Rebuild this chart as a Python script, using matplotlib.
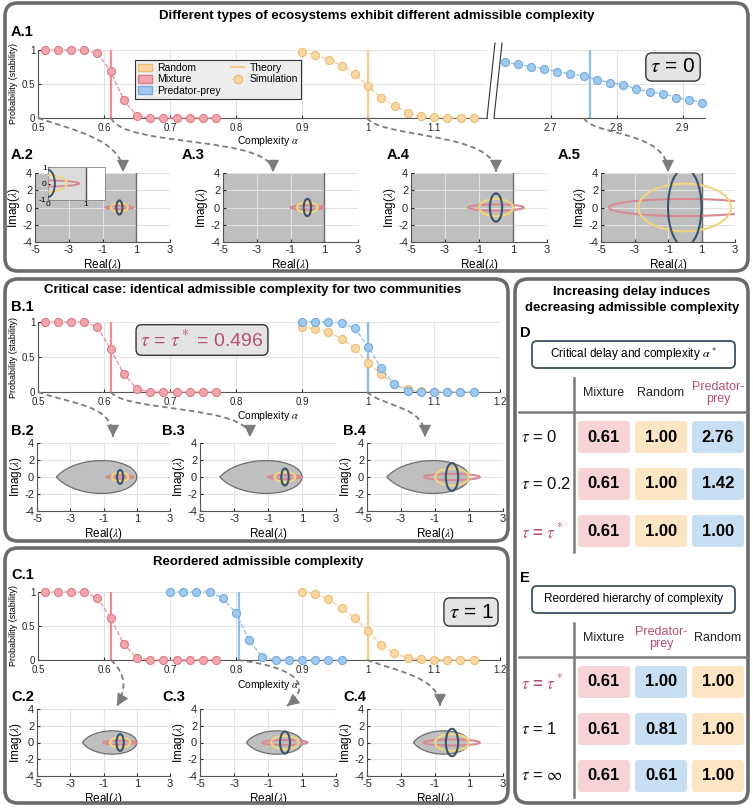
import numpy as np
import matplotlib.pyplot as plt
from matplotlib.patches import Ellipse, Polygon, Patch, FancyBboxPatch, FancyArrowPatch, PathPatch
from matplotlib.path import Path
from matplotlib.lines import Line2D

plt.rcParams['font.family'] = ['Liberation Sans', 'DejaVu Sans']
plt.rcParams['mathtext.fontset'] = 'stix'
plt.rcParams['axes.unicode_minus'] = False

# ---------------------------------------------------
# DATA
# ---------------------------------------------------
MIX_X = [0.51, 0.53, 0.55, 0.57, 0.59, 0.61, 0.63, 0.65, 0.67, 0.69, 0.71, 0.73, 0.75, 0.77]
RAND_X = [0.90, 0.92, 0.94, 0.96, 0.98, 1.00, 1.02, 1.04, 1.06, 1.08, 1.10, 1.12, 1.14, 1.16]
PP_X_A = [2.63, 2.65, 2.67, 2.69, 2.71, 2.73, 2.75, 2.77, 2.79, 2.81, 2.83, 2.85, 2.87, 2.89, 2.91, 2.93]
PP_X_B = [0.90, 0.92, 0.94, 0.96, 0.98, 1.00, 1.02, 1.04, 1.06, 1.08, 1.10, 1.12, 1.14, 1.16]
PP_X_C = [0.70, 0.72, 0.74, 0.76, 0.78, 0.80, 0.82, 0.84, 0.86, 0.88, 0.90, 0.92, 0.94, 0.96]

MIX_A = [1, 1, 1, 1, 0.95, 0.69, 0.26, 0.03, 0, 0, 0, 0, 0, 0]
RAND_A = [0.97, 0.93, 0.86, 0.77, 0.65, 0.47, 0.29, 0.18, 0.08, 0.03, 0.01, 0, 0, 0]
PP_A = [0.82, 0.79, 0.755, 0.725, 0.68, 0.65, 0.62, 0.565, 0.52, 0.49, 0.43, 0.38, 0.36, 0.30, 0.265, 0.225]

MIX_B = [1, 1, 1, 1, 0.93, 0.61, 0.26, 0.04, 0, 0, 0, 0, 0, 0]
RAND_B = [0.93, 0.90, 0.86, 0.76, 0.63, 0.41, 0.26, 0.11, 0.04, 0.01, 0, 0, 0, 0]
PP_B = [1, 1, 1, 0.99, 0.91, 0.65, 0.34, 0.11, 0.02, 0, 0, 0, 0, 0]

MIX_C = [1, 1, 1, 1, 0.91, 0.62, 0.23, 0.03, 0, 0, 0, 0, 0, 0]
PP_C = [1, 1, 1, 1, 0.91, 0.69, 0.29, 0.04, 0, 0, 0, 0, 0, 0]
RAND_C = [1.0, 0.97, 0.90, 0.76, 0.62, 0.43, 0.22, 0.10, 0.03, 0.01, 0, 0, 0, 0]

# theory (critical complexity) per panel
THEORY_A = {'mix': 0.61, 'rand': 1.0, 'pp': 2.76}
THEORY_B = {'mix': 0.61, 'rand': 1.0, 'pp': 1.0}
THEORY_C = {'mix': 0.61, 'rand': 1.0, 'pp': 0.805}

# spectrum ellipse semi-axes (horizontal, vertical) per unit complexity
ELL_AXES = {'mix': (1.64, 0.36), 'rand': (1.0, 1.0), 'pp': (0.362, 1.638)}
ALPHA_A = [0.5, 0.61, 1.0, 2.76]
ALPHA_B = [0.5, 0.61, 1.0]
ALPHA_C = [0.61, 0.805, 1.0]
TAU_B = 0.496
TAU_C = 1.0

D_COLS = ['Mixture', 'Random', 'Predator-\nprey']
D_ROWS = [r'$\tau$ = 0', r'$\tau$ = 0.2', r'$\tau$ = $\tau^*$']
D_VALS = [[0.61, 1.00, 2.76], [0.61, 1.00, 1.42], [0.61, 1.00, 1.00]]
E_COLS = ['Mixture', 'Predator-\nprey', 'Random']
E_ROWS = [r'$\tau$ = $\tau^*$', r'$\tau$ = 1', r'$\tau$ = $\infty$']
E_VALS = [[0.61, 1.00, 1.00], [0.61, 0.81, 1.00], [0.61, 0.61, 1.00]]

# ---------------------------------------------------
# STYLE
# ---------------------------------------------------
COL = {
    'mix': dict(f='#F4A6AC', e='#DB7D86', l='#EC8E96', ell='#D78A93', cell='#F7D3D8'),
    'rand': dict(f='#F9D8A4', e='#EBBD76', l='#F6CC8A', ell='#F1D47F', cell='#FCE5C3'),
    'pp': dict(f='#9FC9EE', e='#76ABDC', l='#8DBFE9', ell='#3C5469', cell='#C8DEF3'),
}
MAUVE = '#B4506C'
GRAY_FILL = '#BFBFBF'
GRID = '#E2E2E2'
SPINE = '#555555'
ARROW = '#7C7C7C'

W, H = 753, 808
fig = plt.figure(figsize=(W / 100, H / 100), dpi=100)
TR = fig.dpi_scale_trans


def P(x, y):
    return x / 100, (H - y) / 100


def add_ax(x0, x1, y0, y1):
    return fig.add_axes([x0 / W, 1 - y1 / H, (x1 - x0) / W, (y1 - y0) / H])


def text(x, y, s, **kw):
    fig.text(*P(x, y), s, transform=TR, **kw)


def style_ax(ax, size):
    for s in ['top', 'right']:
        ax.spines[s].set_visible(False)
    for s in ['left', 'bottom']:
        ax.spines[s].set_color(SPINE)
        ax.spines[s].set_linewidth(0.8)
    ax.grid(True, color=GRID, lw=0.8)
    ax.set_axisbelow(True)
    ax.tick_params(direction='in', length=2.5, labelsize=size, colors='#262626', pad=2)
    ax.tick_params(axis='x', pad=3.5)


def prob_ax(ax, xlim, xticks):
    ax.set_xlim(xlim)
    ax.set_ylim(0, 1)
    ax.set_xticks(xticks)
    ax.set_xticklabels(['%g' % v for v in xticks])
    ax.set_yticks([0, 0.5, 1])
    ax.set_yticklabels(['0', '0.5', '1'])
    style_ax(ax, 7)


def sim(ax, x, y, key):
    c = COL[key]
    ax.plot(x, y, '--', color=c['l'], lw=0.9, marker='o', ms=5.8, mfc=c['f'],
            mec=c['e'], mew=0.8, clip_on=False, zorder=3)


def theory(ax, v, key):
    ax.axvline(v, color=COL[key]['l'], lw=1.6, zorder=2)


def delay_region(tau):
    w = np.linspace(0, 10, 5000)
    wmax = w[np.argmax(np.arctan(w) + w * tau >= np.pi)]
    ww = np.linspace(-wmax, wmax, 600)
    lam = (1 + 1j * ww) * np.exp(1j * ww * tau)
    return np.column_stack([lam.real, lam.imag])


def ellipses(ax, alpha, lw=1.5):
    for key in ['mix', 'rand', 'pp']:
        rx, ry = ELL_AXES[key]
        ax.add_patch(Ellipse((0, 0), 2 * alpha * rx, 2 * alpha * ry, fill=False,
                             ec=COL[key]['ell'], lw=lw, zorder=4))


def spectrum_ax(ax, alpha, tau):
    ax.set_xlim(-5, 3)
    ax.set_ylim(-4, 4)
    ax.set_xticks([-5, -3, -1, 1, 3])
    ax.set_yticks([-4, -2, 0, 2, 4])
    style_ax(ax, 8)
    ax.tick_params(axis='x', pad=2.5)
    if tau == 0:
        ax.axvspan(-5, 1, color=GRAY_FILL, zorder=0.4, lw=0)
        ax.axvline(1, color='#6E6E6E', lw=1, zorder=0.6)
    else:
        ax.add_patch(Polygon(delay_region(tau), closed=True, fc=GRAY_FILL, ec='#6E6E6E',
                             lw=0.9, zorder=1))
    ellipses(ax, alpha)
    ax.set_xlabel(r'Real($\lambda$)', fontsize=8.5, labelpad=1)
    ax.set_ylabel(r'Imag($\lambda$)', fontsize=8.5, labelpad=0)


def curved_arrow(pts):
    path = Path([P(*p) for p in pts], [Path.MOVETO, Path.CURVE4, Path.CURVE4, Path.CURVE4])
    fig.add_artist(PathPatch(path, transform=TR, fill=False, ec=ARROW, lw=1.3,
                             linestyle=(0, (3, 2))))
    (x2, y2), (x3, y3) = pts[2], pts[3]
    d = np.hypot(x3 - x2, y3 - y2)
    base = (x3 - 9 * (x3 - x2) / d, y3 - 9 * (y3 - y2) / d)
    fig.add_artist(FancyArrowPatch(P(*base), P(x3, y3), transform=TR,
                                   arrowstyle='-|>,head_length=0.75,head_width=0.38',
                                   mutation_scale=10, shrinkA=0, shrinkB=0,
                                   color=ARROW, lw=0.8))


def panel_box(x0, y0, x1, y1):
    fig.add_artist(FancyBboxPatch(P(x0, y1), (x1 - x0) / 100, (y1 - y0) / 100,
                                  boxstyle='round,pad=0,rounding_size=0.13', transform=TR,
                                  fc='none', ec='#6B6B6B', lw=2.6))


def tau_box(x, y, s, color='black', size=15):
    text(x, y, s, fontsize=size, color=color, ha='center', va='center',
         bbox=dict(boxstyle='round,pad=0.22,rounding_size=0.3', fc='#E4E4E4', ec='#333333', lw=1))


def label(x, y, s):
    text(x, y, s, fontsize=10.5, fontweight='bold', ha='left', va='center')


# ---------------------------------------------------
# PANEL A
# ---------------------------------------------------
panel_box(5, 3, 748, 271)
text(377, 16, 'Different types of ecosystems exhibit different admissible complexity',
     fontsize=9.5, fontweight='bold', ha='center', va='center')
label(11, 32, 'A.1')

axL = add_ax(38, 487, 50, 118)
prob_ax(axL, (0.5, 1.18), [0.5, 0.6, 0.7, 0.8, 0.9, 1.0, 1.1])
theory(axL, THEORY_A['mix'], 'mix')
theory(axL, THEORY_A['rand'], 'rand')
sim(axL, MIX_X, MIX_A, 'mix')
sim(axL, RAND_X, RAND_A, 'rand')

axR = add_ax(494, 705, 50, 118)
prob_ax(axR, (2.614, 2.934), [2.7, 2.8, 2.9])
axR.spines['left'].set_visible(False)
axR.tick_params(axis='y', left=False, labelleft=False)
theory(axR, THEORY_A['pp'], 'pp')
sim(axR, PP_X_A, PP_A, 'pp')

for xb, xt in [(487, 495), (494, 502)]:
    fig.add_artist(Line2D([P(xb, 118)[0], P(xt, 43)[0]], [P(xb, 118)[1], P(xt, 43)[1]],
                          transform=TR, color='#333333', lw=0.8))

handles = [Patch(fc=COL['rand']['f'], ec=COL['rand']['e'], label='Random'),
           Patch(fc=COL['mix']['f'], ec=COL['mix']['e'], label='Mixture'),
           Patch(fc=COL['pp']['f'], ec=COL['pp']['e'], label='Predator-prey'),
           Line2D([], [], color=COL['rand']['l'], lw=1.5, label='Theory'),
           Line2D([], [], ls='--', color=COL['rand']['l'], lw=0.9, marker='o', ms=6,
                  mfc=COL['rand']['f'], mec=COL['rand']['e'], label='Simulation')]
leg = axL.legend(handles=handles, ncol=2, loc='upper left', bbox_to_anchor=(135 / W, 1 - 60 / H),
                 bbox_transform=fig.transFigure, borderaxespad=0, fontsize=7.5, fancybox=False,
                 facecolor='#EEEEEE', edgecolor='#333333', framealpha=1, handlelength=1.3,
                 handleheight=0.8, handletextpad=0.5, labelspacing=0.12, columnspacing=1.0,
                 borderpad=0.3)
leg.get_frame().set_linewidth(0.8)

text(268, 141, r'Complexity $\alpha$', fontsize=7.5, ha='center', va='center')
text(14, 84, 'Probability (stability)', fontsize=6.5, rotation=90, ha='center', va='center')
tau_box(673, 67, r'$\tau$ = 0')

a_axes = [(35, 170), (223, 358), (411, 547), (601, 735)]
a_labels = [(11, 'A.2'), (182, 'A.3'), (387, 'A.4'), (558, 'A.5')]
for (x0, x1), (lx, s), alpha in zip(a_axes, a_labels, ALPHA_A):
    ax = add_ax(x0, x1, 173, 242)
    spectrum_ax(ax, alpha, 0)
    label(lx, 155, s)

ins = add_ax(48, 105, 167, 200)
ins.set_xlim(0, 1.5)
ins.set_ylim(-1, 1)
ins.axvspan(0, 1, color='#DCDCDC', lw=0, zorder=0)
ins.axvline(1, color='#555555', lw=1)
ins.set_xticks([0, 1])
ins.set_yticks([-1, 0, 1])
ins.tick_params(direction='in', length=1.5, labelsize=6, pad=1)
for s in ins.spines.values():
    s.set_color('#888888')
    s.set_linewidth(0.6)
ellipses(ins, ALPHA_A[0], lw=1.4)

curved_arrow([(38, 118), (70, 129), (123, 140), (123, 172)])
curved_arrow([(111, 118), (124, 148), (273, 135), (273, 172)])
curved_arrow([(367, 118), (380, 138), (496, 132), (496, 172)])
curved_arrow([(584, 118), (592, 136), (668, 130), (668, 172)])

# ---------------------------------------------------
# PANEL B
# ---------------------------------------------------
panel_box(5, 279, 508, 541)
text(253, 290, 'Critical case: identical admissible complexity for two communities',
     fontsize=9.5, fontweight='bold', ha='center', va='center')
label(11, 307, 'B.1')
ax = add_ax(38, 500, 322, 392)
prob_ax(ax, (0.5, 1.2), [0.5, 0.6, 0.7, 0.8, 0.9, 1.0, 1.1, 1.2])
theory(ax, THEORY_B['mix'], 'mix')
theory(ax, THEORY_B['rand'], 'rand')
theory(ax, THEORY_B['pp'], 'pp')
sim(ax, MIX_X, MIX_B, 'mix')
sim(ax, RAND_X, RAND_B, 'rand')
sim(ax, PP_X_B, PP_B, 'pp')
text(268, 416, r'Complexity $\alpha$', fontsize=7.5, ha='center', va='center')
text(14, 357, 'Probability (stability)', fontsize=6.5, rotation=90, ha='center', va='center')
tau_box(202, 340, r'$\tau$ = $\tau^*$ = 0.496', color=MAUVE, size=14)

b_axes = [(37, 170), (200, 336), (367, 503)]
b_labels = [(11, 'B.2'), (162, 'B.3'), (343, 'B.4')]
for (x0, x1), (lx, s), alpha in zip(b_axes, b_labels, ALPHA_B):
    ax = add_ax(x0, x1, 443, 511)
    spectrum_ax(ax, alpha, TAU_B)
    label(lx, 431, s)

curved_arrow([(38, 392), (75, 405), (113, 405), (113, 437)])
curved_arrow([(111, 392), (124, 412), (250, 405), (250, 437)])
curved_arrow([(367, 392), (385, 408), (425, 405), (425, 437)])

# ---------------------------------------------------
# PANEL C
# ---------------------------------------------------
panel_box(5, 548, 508, 803)
text(258, 562, 'Reordered admissible complexity', fontsize=9.5, fontweight='bold',
     ha='center', va='center')
label(11, 575, 'C.1')
ax = add_ax(38, 500, 592, 660)
prob_ax(ax, (0.5, 1.2), [0.5, 0.6, 0.7, 0.8, 0.9, 1.0, 1.1, 1.2])
theory(ax, THEORY_C['mix'], 'mix')
theory(ax, THEORY_C['pp'], 'pp')
theory(ax, THEORY_C['rand'], 'rand')
sim(ax, MIX_X, MIX_C, 'mix')
sim(ax, PP_X_C, PP_C, 'pp')
sim(ax, RAND_X, RAND_C, 'rand')
text(268, 685, r'Complexity $\alpha$', fontsize=7.5, ha='center', va='center')
text(14, 626, 'Probability (stability)', fontsize=6.5, rotation=90, ha='center', va='center')
tau_box(471, 612, r'$\tau$ = 1')

c_labels = [(11, 'C.2'), (162, 'C.3'), (343, 'C.4')]
for (x0, x1), (lx, s), alpha in zip(b_axes, c_labels, ALPHA_C):
    ax = add_ax(x0, x1, 709, 776)
    spectrum_ax(ax, alpha, TAU_C)
    label(lx, 697, s)

curved_arrow([(111, 660), (127, 675), (126, 690), (117, 706)])
curved_arrow([(238, 660), (300, 668), (312, 686), (287, 706)])
curved_arrow([(367, 660), (400, 672), (440, 678), (440, 706)])

# ---------------------------------------------------
# PANELS D / E
# ---------------------------------------------------
panel_box(515, 279, 748, 803)
text(632, 300, 'Increasing delay induces\ndecreasing admissible complexity', fontsize=9.5,
     fontweight='bold', ha='center', va='center', linespacing=1.35)


def table(top, title, cols, rows, vals, keys):
    label(520, top, title[0])
    fig.add_artist(FancyBboxPatch(P(532, top + 35), 203 / 100, 27 / 100,
                                  boxstyle='round,pad=0,rounding_size=0.05', transform=TR,
                                  fc='white', ec='#3E5062', lw=1.3))
    text(633, top + 21, title[1], fontsize=8.5, ha='center', va='center')
    hy = top + 79
    fig.add_artist(Line2D([P(574, 0)[0]] * 2, [P(0, top + 45)[1], P(0, top + 219)[1]],
                          transform=TR, color='#7A7A7A', lw=1.8))
    fig.add_artist(Line2D([P(519, 0)[0], P(747, 0)[0]], [P(0, hy)[1]] * 2,
                          transform=TR, color='#7A7A7A', lw=1.8))
    xs = [604, 661, 718]
    for x, c, k in zip(xs, cols, keys):
        text(x, top + 60, c, fontsize=9, ha='center', va='center', linespacing=1.05,
             color=MAUVE if k == 'pp' and '\n' in c else '#222222')
    for i, (r, row) in enumerate(zip(rows, vals)):
        y = top + 104 + 47 * i
        crit = '*' in r
        text(521, y, r, fontsize=12, ha='left', va='center',
             color=MAUVE if crit else '#111111', fontweight='bold' if crit else 'normal')
        for x, v, k in zip(xs, row, keys):
            fig.add_artist(FancyBboxPatch(P(x - 26, y + 16), 52 / 100, 32 / 100,
                                          boxstyle='round,pad=0,rounding_size=0.03',
                                          transform=TR, fc=COL[k]['cell'], ec='none'))
            text(x, y, '%.2f' % v, fontsize=12, fontweight='bold', ha='center', va='center')


table(333, ('D', r'Critical delay and complexity $\alpha\,^*$'), D_COLS, D_ROWS, D_VALS,
      ['mix', 'rand', 'pp'])
table(578, ('E', 'Reordered hierarchy of complexity'), E_COLS, E_ROWS, E_VALS,
      ['mix', 'pp', 'rand'])

fig.savefig('out.png', dpi=100)
